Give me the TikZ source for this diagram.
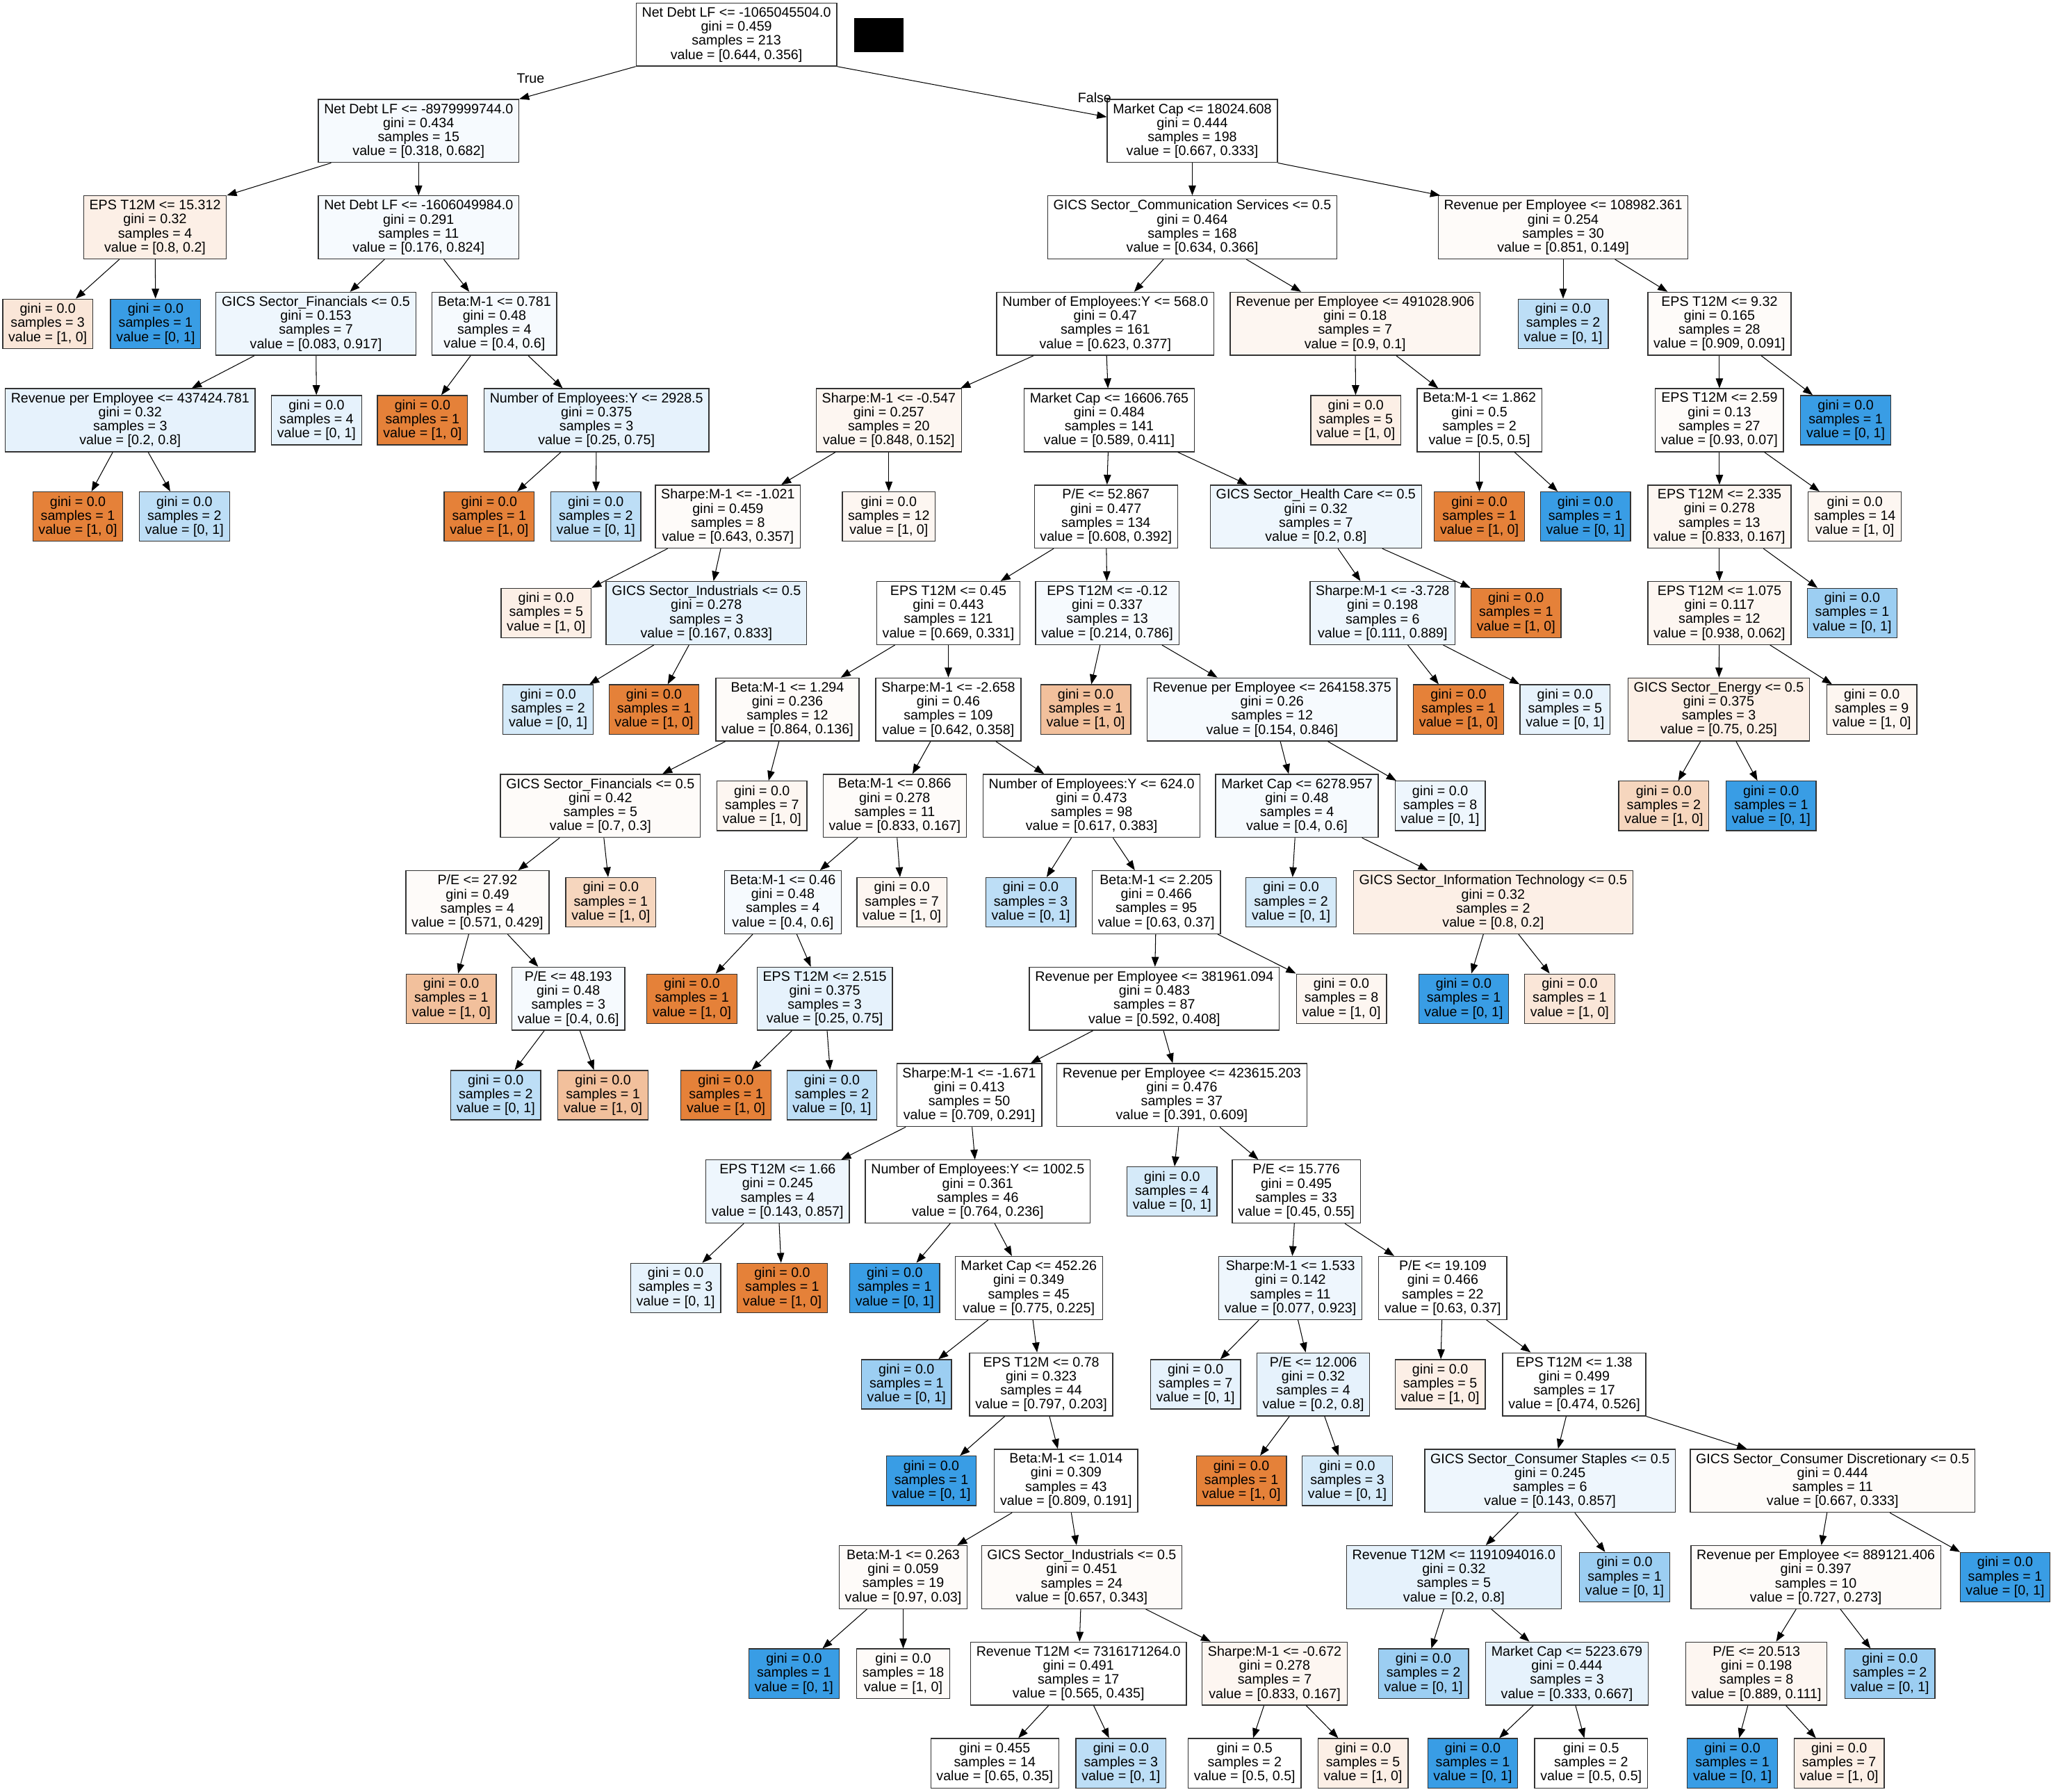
\documentclass[tikz,border=0pt]{standalone}
\usepackage{fontspec}
\setmainfont{Liberation Sans}
\usetikzlibrary{arrows.meta,calc}
\definecolor{cOR}{HTML}{E58139}
\definecolor{cBL}{HTML}{399DE5}
\definecolor{co1}{HTML}{F2C09C}
\definecolor{co2}{HTML}{F6D6BE}
\definecolor{co3}{HTML}{FAE6D8}
\definecolor{co4}{HTML}{FCEFE6}
\definecolor{co5}{HTML}{FDF6F1}
\definecolor{co6}{HTML}{FEFBF9}
\definecolor{cb1}{HTML}{BDDEF6}
\definecolor{cb2}{HTML}{9CCEF2}
\definecolor{cb3}{HTML}{D5EAF9}
\definecolor{cb4}{HTML}{E6F2FC}
\definecolor{cb5}{HTML}{EEF6FD}
\definecolor{cb6}{HTML}{F6FAFE}
\definecolor{cW}{HTML}{FFFFFF}
\newcommand\fs{\fontsize{10.44}{10.75}\selectfont}
\tikzset{
  box/.style={draw=black!80, line width=0.7pt, rectangle, align=center, inner xsep=4.4pt, inner ysep=1pt, font=\fs, text=black},
  dec/.style={box, minimum height=48.2pt},
  leafbox/.style={box, minimum height=37.8pt},
  edge/.style={line width=0.55pt, -{Triangle[length=7.5pt,width=5.6pt]}},
  lbl/.style={font=\fs, inner sep=0pt}
}
\newcommand\dnode[8]{\node[dec,fill=#4] (#1) at (#2,#3) {#5\\gini = #6\\samples = #7\\value = #8};}
\newcommand\lnode[7]{\node[leafbox,fill=#4] (#1) at (#2,#3) {gini = #5\\samples = #6\\value = #7};}
\newcommand\edgeto[2]{%
  \draw[edge] let \p1=(#1.center), \p2=(#2.center), \p3=(#1.south east), \p4=(#1.south west),
    \p5=(#2.north east), \p6=(#2.north west),
    \n1={\x1+(\x2-\x1)*((\y3-\y1)/(\y2-\y1))},
    \n2={min(max(\n1,\x4),\x3)},
    \n3={\x1+(\x2-\x1)*((\y5-\y1)/(\y2-\y1))},
    \n4={min(max(\n3,\x6),\x5)}
  in (\n2,\y3) -- (\n4,\y5);}
\begin{document}
\begin{tikzpicture}[x=1pt,y=-1pt]
\fill[white] (0,0) rectangle (1568,1369.3);
\useasboundingbox (0,0) rectangle (1568,1369.3);
% r0
\dnode{n0}{563}{26.4}{cW}{Net Debt LF <= -1065045504.0}{0.459}{213}{[0.644, 0.356]}
\node[fill=black, minimum width=38pt, minimum height=26pt, inner sep=0pt] (blk) at (672,26.9) {};
% r1
\dnode{n1}{320}{100.1}{cb6}{Net Debt LF <= -8979999744.0}{0.434}{15}{[0.318, 0.682]}
\dnode{n2}{911.5}{100.1}{cW}{Market Cap <= 18024.608}{0.444}{198}{[0.667, 0.333]}
% r2
\dnode{n3}{118.5}{173.8}{co4}{EPS T12M <= 15.312}{0.32}{4}{[0.8, 0.2]}
\dnode{n4}{320}{173.8}{cb6}{Net Debt LF <= -1606049984.0}{0.291}{11}{[0.176, 0.824]}
\dnode{n17}{911.5}{173.8}{cW}{GICS Sector\_Communication Services <= 0.5}{0.464}{168}{[0.634, 0.366]}
\dnode{n18}{1195}{173.8}{co6}{Revenue per Employee <= 108982.361}{0.254}{30}{[0.851, 0.149]}
% r3
\lnode{n5}{36.5}{247.5}{co3}{0.0}{3}{[1, 0]}
\lnode{n6}{119}{247.5}{cBL}{0.0}{1}{[0, 1]}
\dnode{n7}{241.5}{247.5}{cb5}{GICS Sector\_Financials <= 0.5}{0.153}{7}{[0.083, 0.917]}
\dnode{n8}{378}{247.5}{cb6}{Beta:M-1 <= 0.781}{0.48}{4}{[0.4, 0.6]}
\dnode{n31}{845}{247.5}{cW}{Number of Employees:Y <= 568.0}{0.47}{161}{[0.623, 0.377]}
\dnode{n32}{1036}{247.5}{co5}{Revenue per Employee <= 491028.906}{0.18}{7}{[0.9, 0.1]}
\lnode{n19}{1195}{247.5}{cb1}{0.0}{2}{[0, 1]}
\dnode{n20}{1314.5}{247.5}{co6}{EPS T12M <= 9.32}{0.165}{28}{[0.909, 0.091]}
% r4
\dnode{n9}{99.5}{321.2}{cb4}{Revenue per Employee <= 437424.781}{0.32}{3}{[0.2, 0.8]}
\lnode{n10}{242}{321.2}{cb4}{0.0}{4}{[0, 1]}
\lnode{n13}{323}{321.2}{cOR}{0.0}{1}{[1, 0]}
\dnode{n14}{456}{321.2}{cb4}{Number of Employees:Y <= 2928.5}{0.375}{3}{[0.25, 0.75]}
\dnode{n37}{679.5}{321.2}{co5}{Sharpe:M-1 <= -0.547}{0.257}{20}{[0.848, 0.152]}
\dnode{n38}{848}{321.2}{cW}{Market Cap <= 16606.765}{0.484}{141}{[0.589, 0.411]}
\lnode{n33}{1036.5}{321.2}{co4}{0.0}{5}{[1, 0]}
\dnode{n34}{1131}{321.2}{cW}{Beta:M-1 <= 1.862}{0.5}{2}{[0.5, 0.5]}
\dnode{n21}{1314.5}{321.2}{co6}{EPS T12M <= 2.59}{0.13}{27}{[0.93, 0.07]}
\lnode{n22}{1411}{321.2}{cBL}{0.0}{1}{[0, 1]}
% r5
\lnode{n11}{59.5}{394.9}{cOR}{0.0}{1}{[1, 0]}
\lnode{n12}{141}{394.9}{cb1}{0.0}{2}{[0, 1]}
\lnode{n15}{374}{394.9}{cOR}{0.0}{1}{[1, 0]}
\lnode{n16}{455.5}{394.9}{cb1}{0.0}{2}{[0, 1]}
\dnode{n39}{556.5}{394.9}{co6}{Sharpe:M-1 <= -1.021}{0.459}{8}{[0.643, 0.357]}
\lnode{n40}{679.5}{394.9}{co5}{0.0}{12}{[1, 0]}
\dnode{n45}{845.5}{394.9}{cW}{P/E <= 52.867}{0.477}{134}{[0.608, 0.392]}
\dnode{n46}{1006}{394.9}{cb5}{GICS Sector\_Health Care <= 0.5}{0.32}{7}{[0.2, 0.8]}
\lnode{n35}{1131}{394.9}{cOR}{0.0}{1}{[1, 0]}
\lnode{n36}{1212}{394.9}{cBL}{0.0}{1}{[0, 1]}
\dnode{n23}{1314.5}{394.9}{co5}{EPS T12M <= 2.335}{0.278}{13}{[0.833, 0.167]}
\lnode{n24}{1418}{394.9}{co5}{0.0}{14}{[1, 0]}
% r6
\lnode{n41}{417.5}{468.6}{co4}{0.0}{5}{[1, 0]}
\dnode{n42}{540}{468.6}{cb4}{GICS Sector\_Industrials <= 0.5}{0.278}{3}{[0.167, 0.833]}
\dnode{n51}{725}{468.6}{cW}{EPS T12M <= 0.45}{0.443}{121}{[0.669, 0.331]}
\dnode{n52}{846.5}{468.6}{cb6}{EPS T12M <= -0.12}{0.337}{13}{[0.214, 0.786]}
\dnode{n47}{1057}{468.6}{cb5}{Sharpe:M-1 <= -3.728}{0.198}{6}{[0.111, 0.889]}
\lnode{n48}{1159}{468.6}{cOR}{0.0}{1}{[1, 0]}
\dnode{n25}{1314.5}{468.6}{co5}{EPS T12M <= 1.075}{0.117}{12}{[0.938, 0.062]}
\lnode{n26}{1416}{468.6}{cb2}{0.0}{1}{[0, 1]}
% r7
\lnode{n43}{419}{542.3}{cb3}{0.0}{2}{[0, 1]}
\lnode{n44}{500}{542.3}{cOR}{0.0}{1}{[1, 0]}
\dnode{n61}{602}{542.3}{co6}{Beta:M-1 <= 1.294}{0.236}{12}{[0.864, 0.136]}
\dnode{n62}{725}{542.3}{cW}{Sharpe:M-1 <= -2.658}{0.46}{109}{[0.642, 0.358]}
\lnode{n53}{830}{542.3}{co1}{0.0}{1}{[1, 0]}
\dnode{n54}{972.5}{542.3}{cb6}{Revenue per Employee <= 264158.375}{0.26}{12}{[0.154, 0.846]}
\lnode{n49}{1115}{542.3}{cOR}{0.0}{1}{[1, 0]}
\lnode{n50}{1196.5}{542.3}{cb4}{0.0}{5}{[0, 1]}
\dnode{n27}{1314}{542.3}{co4}{GICS Sector\_Energy <= 0.5}{0.375}{3}{[0.75, 0.25]}
\lnode{n28}{1431}{542.3}{co5}{0.0}{9}{[1, 0]}
% r8
\dnode{n63}{459}{616}{co6}{GICS Sector\_Financials <= 0.5}{0.42}{5}{[0.7, 0.3]}
\lnode{n64}{582.5}{616}{co5}{0.0}{7}{[1, 0]}
\dnode{n71}{684}{616}{co6}{Beta:M-1 <= 0.866}{0.278}{11}{[0.833, 0.167]}
\dnode{n72}{834.5}{616}{cW}{Number of Employees:Y <= 624.0}{0.473}{98}{[0.617, 0.383]}
\dnode{n55}{991.5}{616}{cb6}{Market Cap <= 6278.957}{0.48}{4}{[0.4, 0.6]}
\lnode{n56}{1101}{616}{cb5}{0.0}{8}{[0, 1]}
\lnode{n29}{1272}{616}{co2}{0.0}{2}{[1, 0]}
\lnode{n30}{1354}{616}{cBL}{0.0}{1}{[0, 1]}
% r9
\dnode{n65}{365}{689.7}{co6}{P/E <= 27.92}{0.49}{4}{[0.571, 0.429]}
\lnode{n66}{467}{689.7}{co2}{0.0}{1}{[1, 0]}
\dnode{n73}{598.5}{689.7}{cb6}{Beta:M-1 <= 0.46}{0.48}{4}{[0.4, 0.6]}
\lnode{n74}{689.5}{689.7}{co5}{0.0}{7}{[1, 0]}
\lnode{n79}{788}{689.7}{cb1}{0.0}{3}{[0, 1]}
\dnode{n80}{884}{689.7}{cW}{Beta:M-1 <= 2.205}{0.466}{95}{[0.63, 0.37]}
\lnode{n57}{987}{689.7}{cb3}{0.0}{2}{[0, 1]}
\dnode{n58}{1141.5}{689.7}{co4}{GICS Sector\_Information Technology <= 0.5}{0.32}{2}{[0.8, 0.2]}
% r10
\lnode{n67}{345}{763.4}{co1}{0.0}{1}{[1, 0]}
\dnode{n68}{434.5}{763.4}{cb6}{P/E <= 48.193}{0.48}{3}{[0.4, 0.6]}
\lnode{n75}{529}{763.4}{cOR}{0.0}{1}{[1, 0]}
\dnode{n76}{630.5}{763.4}{cb4}{EPS T12M <= 2.515}{0.375}{3}{[0.25, 0.75]}
\dnode{n81}{882.5}{763.4}{cW}{Revenue per Employee <= 381961.094}{0.483}{87}{[0.592, 0.408]}
\lnode{n82}{1025.5}{763.4}{co5}{0.0}{8}{[1, 0]}
\lnode{n59}{1119}{763.4}{cBL}{0.0}{1}{[0, 1]}
\lnode{n60}{1200}{763.4}{co3}{0.0}{1}{[1, 0]}
% r11
\lnode{n69}{379}{837.1}{cb1}{0.0}{2}{[0, 1]}
\lnode{n70}{461}{837.1}{co1}{0.0}{1}{[1, 0]}
\lnode{n77}{555}{837.1}{cOR}{0.0}{1}{[1, 0]}
\lnode{n78}{636}{837.1}{cb1}{0.0}{2}{[0, 1]}
\dnode{n83}{741}{837.1}{cW}{Sharpe:M-1 <= -1.671}{0.413}{50}{[0.709, 0.291]}
\dnode{n84}{903.5}{837.1}{cW}{Revenue per Employee <= 423615.203}{0.476}{37}{[0.391, 0.609]}
% r12
\dnode{n85}{594.5}{910.8}{cb5}{EPS T12M <= 1.66}{0.245}{4}{[0.143, 0.857]}
\dnode{n86}{747.5}{910.8}{cW}{Number of Employees:Y <= 1002.5}{0.361}{46}{[0.764, 0.236]}
\lnode{n105}{896}{910.8}{cb3}{0.0}{4}{[0, 1]}
\dnode{n106}{991}{910.8}{cW}{P/E <= 15.776}{0.495}{33}{[0.45, 0.55]}
% r13
\lnode{n87}{516.5}{984.5}{cb4}{0.0}{3}{[0, 1]}
\lnode{n88}{598}{984.5}{cOR}{0.0}{1}{[1, 0]}
\lnode{n89}{684}{984.5}{cBL}{0.0}{1}{[0, 1]}
\dnode{n90}{786.5}{984.5}{cW}{Market Cap <= 452.26}{0.349}{45}{[0.775, 0.225]}
\dnode{n107}{986.5}{984.5}{cb5}{Sharpe:M-1 <= 1.533}{0.142}{11}{[0.077, 0.923]}
\dnode{n108}{1103}{984.5}{cW}{P/E <= 19.109}{0.466}{22}{[0.63, 0.37]}
% r14
\lnode{n91}{693}{1058.2}{cb2}{0.0}{1}{[0, 1]}
\dnode{n92}{796}{1058.2}{cW}{EPS T12M <= 0.78}{0.323}{44}{[0.797, 0.203]}
\lnode{n109}{914}{1058.2}{cb4}{0.0}{7}{[0, 1]}
\dnode{n110}{1004}{1058.2}{cb4}{P/E <= 12.006}{0.32}{4}{[0.2, 0.8]}
\lnode{n113}{1101}{1058.2}{co4}{0.0}{5}{[1, 0]}
\dnode{n114}{1203.5}{1058.2}{cW}{EPS T12M <= 1.38}{0.499}{17}{[0.474, 0.526]}
% r15
\lnode{n93}{712}{1131.9}{cBL}{0.0}{1}{[0, 1]}
\dnode{n94}{815}{1131.9}{cW}{Beta:M-1 <= 1.014}{0.309}{43}{[0.809, 0.191]}
\lnode{n111}{949}{1131.9}{cOR}{0.0}{1}{[1, 0]}
\lnode{n112}{1030}{1131.9}{cb3}{0.0}{3}{[0, 1]}
\dnode{n115}{1185}{1131.9}{cb5}{GICS Sector\_Consumer Staples <= 0.5}{0.245}{6}{[0.143, 0.857]}
\dnode{n116}{1401}{1131.9}{co6}{GICS Sector\_Consumer Discretionary <= 0.5}{0.444}{11}{[0.667, 0.333]}
% r16
\dnode{n95}{690.5}{1205.6}{co6}{Beta:M-1 <= 0.263}{0.059}{19}{[0.97, 0.03]}
\dnode{n96}{827}{1205.6}{co6}{GICS Sector\_Industrials <= 0.5}{0.451}{24}{[0.657, 0.343]}
\dnode{n117}{1111.5}{1205.6}{cb4}{Revenue T12M <= 1191094016.0}{0.32}{5}{[0.2, 0.8]}
\lnode{n118}{1242}{1205.6}{cb2}{0.0}{1}{[0, 1]}
\dnode{n123}{1388.2}{1205.6}{co6}{Revenue per Employee <= 889121.406}{0.397}{10}{[0.727, 0.273]}
\lnode{n124}{1532.9}{1205.6}{cBL}{0.0}{1}{[0, 1]}
% r17
\lnode{n97}{607}{1279.3}{cBL}{0.0}{1}{[0, 1]}
\lnode{n98}{690.5}{1279.3}{co6}{0.0}{18}{[1, 0]}
\dnode{n99}{824.5}{1279.3}{cW}{Revenue T12M <= 7316171264.0}{0.491}{17}{[0.565, 0.435]}
\dnode{n100}{974.5}{1279.3}{co5}{Sharpe:M-1 <= -0.672}{0.278}{7}{[0.833, 0.167]}
\lnode{n119}{1088.2}{1279.3}{cb2}{0.0}{2}{[0, 1]}
\dnode{n120}{1197.9}{1279.3}{cb4}{Market Cap <= 5223.679}{0.444}{3}{[0.333, 0.667]}
\dnode{n125}{1342.8}{1279.3}{co5}{P/E <= 20.513}{0.198}{8}{[0.889, 0.111]}
\lnode{n126}{1444.8}{1279.3}{cb2}{0.0}{2}{[0, 1]}
% r18
\lnode{n101}{760.5}{1347.8}{cW}{0.455}{14}{[0.65, 0.35]}
\lnode{n102}{857}{1347.8}{cb1}{0.0}{3}{[0, 1]}
\lnode{n103}{951.5}{1347.8}{cW}{0.5}{2}{[0.5, 0.5]}
\lnode{n104}{1042}{1347.8}{co4}{0.0}{5}{[1, 0]}
\lnode{n121}{1125.9}{1347.8}{cBL}{0.0}{1}{[0, 1]}
\lnode{n122}{1216.4}{1347.8}{cW}{0.5}{2}{[0.5, 0.5]}
\lnode{n127}{1324.4}{1347.8}{cBL}{0.0}{1}{[0, 1]}
\lnode{n128}{1406}{1347.8}{co4}{0.0}{7}{[1, 0]}
% edge labels
\node[lbl] (tlab) at (405.6,60.2) {True};
\node[lbl] (flab) at (836.8,74.6) {False};
% the False edge enters the left side of its child
\coordinate (fend) at ([yshift=10.7pt]n2.west);
\draw[edge] (n0.south east) -- (fend);
% edges
\foreach \a/\b in {n0/n1,n1/n3,n1/n4,n3/n5,n3/n6,n4/n7,n4/n8,n7/n9,n7/n10,n9/n11,n9/n12,
  n8/n13,n8/n14,n14/n15,n14/n16,n2/n17,n2/n18,n18/n19,n18/n20,n20/n21,n20/n22,n21/n23,n21/n24,
  n23/n25,n23/n26,n25/n27,n25/n28,n27/n29,n27/n30,n17/n31,n17/n32,n32/n33,n32/n34,n34/n35,n34/n36,
  n31/n37,n31/n38,n37/n39,n37/n40,n39/n41,n39/n42,n42/n43,n42/n44,n38/n45,n38/n46,n46/n47,n46/n48,
  n47/n49,n47/n50,n45/n51,n45/n52,n52/n53,n52/n54,n54/n55,n54/n56,n55/n57,n55/n58,n58/n59,n58/n60,
  n51/n61,n51/n62,n61/n63,n61/n64,n63/n65,n63/n66,n65/n67,n65/n68,n68/n69,n68/n70,n62/n71,n62/n72,
  n71/n73,n71/n74,n73/n75,n73/n76,n76/n77,n76/n78,n72/n79,n72/n80,n80/n81,n80/n82,n81/n83,n81/n84,
  n83/n85,n83/n86,n85/n87,n85/n88,n86/n89,n86/n90,n90/n91,n90/n92,n92/n93,n92/n94,n94/n95,n94/n96,
  n95/n97,n95/n98,n96/n99,n96/n100,n99/n101,n99/n102,n100/n103,n100/n104,n84/n105,n84/n106,
  n106/n107,n106/n108,n107/n109,n107/n110,n110/n111,n110/n112,n108/n113,n108/n114,n114/n115,n114/n116,
  n115/n117,n115/n118,n117/n119,n117/n120,n120/n121,n120/n122,n116/n123,n116/n124,n123/n125,n123/n126,
  n125/n127,n125/n128}
  {\edgeto{\a}{\b}}
\end{tikzpicture}
\end{document}
